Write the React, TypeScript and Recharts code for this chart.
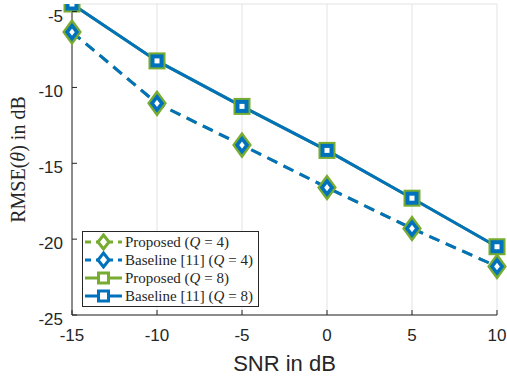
import React from "react";
import {
  CartesianGrid,
  Line,
  LineChart,
  XAxis,
  YAxis,
} from "recharts";

const snrDb = [-15, -10, -5, 0, 5, 10];
const proposedQ4 = [-6.35, -11.05, -13.8, -16.6, -19.3, -21.8];
const baselineQ4 = [-6.35, -11.05, -13.8, -16.6, -19.3, -21.8];
const proposedQ8 = [-4.5, -8.25, -11.25, -14.15, -17.3, -20.5];
const baselineQ8 = [-4.5, -8.25, -11.25, -14.15, -17.3, -20.5];

const xTicks = [-15, -10, -5, 0, 5, 10];
const yTicks = [-25, -20, -15, -10, -5];

const BLUE = "#0072BD";
const GREEN = "#77AC30";
const AXIS = "#262626";
const SANS = "'Liberation Sans', Arial, sans-serif";
const SERIF = "'Liberation Serif', 'Times New Roman', serif";

const data = snrDb.map((snr, i) => ({
  snr,
  pQ4: proposedQ4[i],
  bQ4: baselineQ4[i],
  pQ8: proposedQ8[i],
  bQ8: baselineQ8[i],
}));

// MATLAB diamonds are a bit taller than wide
function diamondPath(cx: number, cy: number, w: number, h: number) {
  return `M${cx},${cy - h}L${cx + w},${cy}L${cx},${cy + h}L${cx - w},${cy}Z`;
}

function makeDiamond(color: string, w: number, h: number, sw: number) {
  return (props: any) => {
    const { cx, cy, index } = props;
    if (cx == null || cy == null) return <g key={index} />;
    return (
      <path
        key={index}
        d={diamondPath(cx, cy, w, h)}
        fill="#fff"
        stroke={color}
        strokeWidth={sw}
      />
    );
  };
}

function makeSquare(color: string, r: number, sw: number) {
  return (props: any) => {
    const { cx, cy, index } = props;
    if (cx == null || cy == null) return <g key={index} />;
    return (
      <rect
        key={index}
        x={cx - r}
        y={cy - r}
        width={2 * r}
        height={2 * r}
        fill="#fff"
        stroke={color}
        strokeWidth={sw}
      />
    );
  };
}

// MATLAB style: ticks point into the plot box
function BottomTick(props: any) {
  const { x, y, payload } = props;
  return (
    <g>
      <line x1={x} y1={y} x2={x} y2={y - 5} stroke={AXIS} />
      <text x={x} y={y + 26} textAnchor="middle" fill={AXIS} fontSize={17} fontFamily={SANS}>
        {payload.value}
      </text>
    </g>
  );
}

function LeftTick(props: any) {
  const { x, y, payload } = props;
  return (
    <g>
      <line x1={x} y1={y} x2={x + 5} y2={y} stroke={AXIS} />
      <text x={x - 9} y={y + 10} textAnchor="end" fill={AXIS} fontSize={17} fontFamily={SANS}>
        {payload.value}
      </text>
    </g>
  );
}

function TopTick(props: any) {
  const { x, y } = props;
  return <line x1={x} y1={y} x2={x} y2={y + 5} stroke={AXIS} />;
}

function RightTick(props: any) {
  const { x, y } = props;
  return <line x1={x} y1={y} x2={x - 5} y2={y} stroke={AXIS} />;
}

function YLabel(props: any) {
  const vb = props?.viewBox as { x: number; y: number; width: number; height: number } | undefined;
  if (!vb) return null;
  const x = 25;
  const y = vb.y + vb.height / 2;
  return (
    <text
      x={x}
      y={y}
      transform={`rotate(-90, ${x}, ${y})`}
      textAnchor="middle"
      fill={AXIS}
      fontSize={20}
      fontFamily={SERIF}
    >
      RMSE(<tspan fontStyle="italic">θ</tspan>) in dB
    </text>
  );
}

const legendItems = [
  { name: "Proposed", q: 4, color: GREEN, dashed: true, marker: "diamond" },
  { name: "Baseline [11]", q: 4, color: BLUE, dashed: true, marker: "diamond" },
  { name: "Proposed", q: 8, color: GREEN, dashed: false, marker: "square" },
  { name: "Baseline [11]", q: 8, color: BLUE, dashed: false, marker: "square" },
];

function LegendBox() {
  return (
    <div
      style={{
        position: "absolute",
        left: 82,
        top: 231,
        border: `1px solid ${AXIS}`,
        background: "#fff",
        padding: "1px 5px 1px 1px",
        fontFamily: SERIF,
        fontSize: 15,
        color: AXIS,
        lineHeight: "18px",
      }}
    >
      {legendItems.map((it, i) => (
        <div key={i} style={{ display: "flex", alignItems: "center", whiteSpace: "nowrap" }}>
          <svg width={39} height={18} style={{ marginRight: 2 }}>
            <line
              x1={1}
              y1={9}
              x2={38}
              y2={9}
              stroke={it.color}
              strokeWidth={3}
              strokeDasharray={it.dashed ? "6 5" : undefined}
            />
            {it.marker === "diamond" ? (
              <path d={diamondPath(19.5, 9, 5.5, 7)} fill="#fff" stroke={it.color} strokeWidth={3} />
            ) : (
              <rect x={14.5} y={4} width={10} height={10} fill="#fff" stroke={it.color} strokeWidth={3} />
            )}
          </svg>
          <span>
            {it.name} (<i>Q</i> = {it.q})
          </span>
        </div>
      ))}
    </div>
  );
}

export default function App() {
  return (
    <div style={{ position: "absolute", left: 0, top: 0, width: 507, height: 382, background: "#fff" }}>
      <LineChart
        width={507}
        height={382}
        data={data}
        margin={{ top: 4, right: 10, bottom: 0, left: 0 }}
      >
        <CartesianGrid stroke="#e3e3e3" strokeWidth={1} />
        <XAxis
          xAxisId="b"
          dataKey="snr"
          type="number"
          domain={[-15, 10]}
          ticks={xTicks}
          height={67}
          tickSize={0}
          tickMargin={0}
          tickLine={false}
          axisLine={{ stroke: AXIS }}
          tick={<BottomTick />}
          label={{
            value: "SNR in dB",
            position: "insideBottom",
            offset: 11,
            fill: AXIS,
            fontSize: 22,
            fontFamily: SANS,
          }}
        />
        <XAxis
          xAxisId="t"
          dataKey="snr"
          type="number"
          orientation="top"
          domain={[-15, 10]}
          ticks={xTicks}
          height={0}
          tickSize={0}
          tickMargin={0}
          tickLine={false}
          axisLine={{ stroke: AXIS }}
          tick={<TopTick />}
        />
        <YAxis
          yAxisId="l"
          type="number"
          domain={[-25, -4.5]}
          ticks={yTicks}
          allowDataOverflow
          width={72}
          tickSize={0}
          tickMargin={0}
          tickLine={false}
          axisLine={{ stroke: AXIS }}
          tick={<LeftTick />}
          label={<YLabel />}
        />
        <YAxis
          yAxisId="r"
          type="number"
          orientation="right"
          domain={[-25, -4.5]}
          ticks={yTicks}
          allowDataOverflow
          width={0}
          tickSize={0}
          tickMargin={0}
          tickLine={false}
          axisLine={{ stroke: AXIS }}
          tick={<RightTick />}
        />
        <Line
          xAxisId="b"
          yAxisId="l"
          dataKey="pQ4"
          stroke={GREEN}
          strokeWidth={3}
          strokeDasharray="11 7"
          dot={makeDiamond(GREEN, 8, 11, 3)}
          isAnimationActive={false}
        />
        <Line
          xAxisId="b"
          yAxisId="l"
          dataKey="bQ4"
          stroke={BLUE}
          strokeWidth={3}
          strokeDasharray="11 7"
          dot={makeDiamond(BLUE, 5, 6.5, 3.5)}
          isAnimationActive={false}
        />
        <Line
          xAxisId="b"
          yAxisId="l"
          dataKey="pQ8"
          stroke={GREEN}
          strokeWidth={3}
          dot={makeSquare(GREEN, 7, 3)}
          isAnimationActive={false}
        />
        <Line
          xAxisId="b"
          yAxisId="l"
          dataKey="bQ8"
          stroke={BLUE}
          strokeWidth={3}
          dot={makeSquare(BLUE, 4.5, 4)}
          isAnimationActive={false}
        />
      </LineChart>
      <LegendBox />
    </div>
  );
}
